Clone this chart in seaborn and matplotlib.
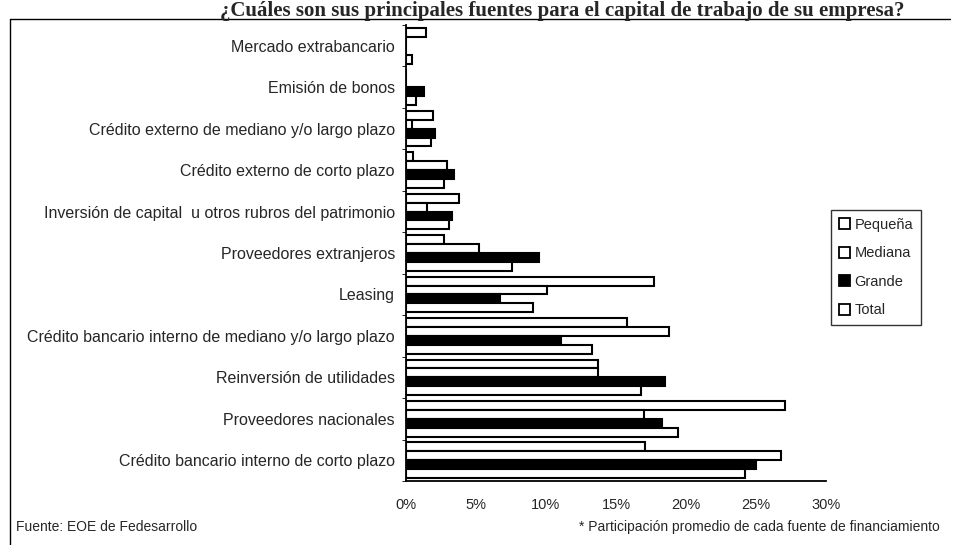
import pandas as pd
import matplotlib.pyplot as plt
import seaborn as sns
from matplotlib.lines import Line2D

# DANE (udział % każdego źródła finansowania)
categorias = [
    "Mercado extrabancario",
    "Emisión de bonos",
    "Crédito externo de mediano y/o largo plazo",
    "Crédito externo de corto plazo",
    "Inversión de capital  u otros rubros del patrimonio",
    "Proveedores extranjeros",
    "Leasing",
    "Crédito bancario interno de mediano y/o largo plazo",
    "Reinversión de utilidades",
    "Proveedores nacionales",
    "Crédito bancario interno de corto plazo",
]
pequena = [1.4, 0.0, 1.9, 0.5, 3.8, 2.7, 17.7, 15.8, 13.7, 27.1, 17.1]
mediana = [0.0, 0.0, 0.4, 2.9, 1.5, 5.2, 10.1, 18.8, 13.7, 17.0, 26.8]
grande = [0.0, 1.3, 2.1, 3.4, 3.3, 9.5, 6.7, 11.1, 18.5, 18.3, 25.0]
total = [0.4, 0.7, 1.8, 2.7, 3.1, 7.6, 9.1, 13.3, 16.8, 19.4, 24.2]
tamanos = ["Pequeña", "Mediana", "Grande", "Total"]
xticks = [0, 5, 10, 15, 20, 25, 30]

# format długi dla seaborn
df = pd.DataFrame({"Fuente": categorias, "Pequeña": pequena, "Mediana": mediana,
                   "Grande": grande, "Total": total})
df = df.melt(id_vars="Fuente", var_name="Tamaño", value_name="Valor")

sns.set_style("white")
plt.rcParams["font.family"] = ["Liberation Sans", "DejaVu Sans"]

fig = plt.figure(figsize=(9.56, 5.45), dpi=100)
ax = fig.add_axes([406 / 956, 1 - 481 / 545, 420 / 956, 456 / 545])

paleta = {"Pequeña": "white", "Mediana": "white", "Grande": "black", "Total": "white"}
sns.barplot(data=df, y="Fuente", x="Valor", hue="Tamaño", hue_order=tamanos,
            order=categorias, palette=paleta, edgecolor="black", linewidth=1.5,
            width=0.86, orient="h", ax=ax, legend=False)

ax.set_xlim(0, 30)
ax.set_xticks(xticks)
ax.set_xticklabels([f"{v}%" for v in xticks], fontsize=10.5)
ax.tick_params(axis="x", length=3, pad=12, direction="in", color="black")
ax.tick_params(axis="y", length=0, labelsize=11.5, pad=8)
ax.set_yticks([i + 0.5 for i in range(-1, len(categorias))], minor=True)
ax.tick_params(axis="y", which="minor", length=3, color="black", left=True)
ax.set_xlabel("")
ax.set_ylabel("")
for s in ["top", "right"]:
    ax.spines[s].set_visible(False)
for s in ["left", "bottom"]:
    ax.spines[s].set_color("black")
    ax.spines[s].set_linewidth(1.3)

# legenda
uchwyty = [plt.Rectangle((0, 0), 1, 1, facecolor=paleta[t], edgecolor="black", linewidth=1.3)
           for t in tamanos]
leg = fig.legend(uchwyty, tamanos, loc="upper left", bbox_to_anchor=(824 / 956, 1 - 203 / 545),
                 fontsize=10.5, frameon=True, fancybox=False, labelspacing=1.0,
                 handlelength=0.8, handleheight=0.8, handletextpad=0.3, borderpad=0.5)
leg.get_frame().set_edgecolor("black")
leg.get_frame().set_linewidth(1.0)

# tytuł
fig.text(905 / 956, 1 - 1 / 545, "¿Cuáles son sus principales fuentes para el capital de trabajo de su empresa?",
         ha="right", va="top", fontsize=15, fontweight="bold", family="Liberation Serif")

# ramka
fig.add_artist(Line2D([10 / 956, 950 / 956], [1 - 19 / 545, 1 - 19 / 545], color="black", lw=1.0))
fig.add_artist(Line2D([10 / 956, 10 / 956], [1 - 19 / 545, 0], color="black", lw=1.0))

# przypisy
fig.text(16 / 956, 1 - 527 / 545, "Fuente: EOE de Fedesarrollo", fontsize=10, va="center")
fig.text(940 / 956, 1 - 527 / 545, "* Participación promedio de cada fuente de financiamiento",
         fontsize=10, va="center", ha="right")

plt.savefig("out.png", dpi=100)
